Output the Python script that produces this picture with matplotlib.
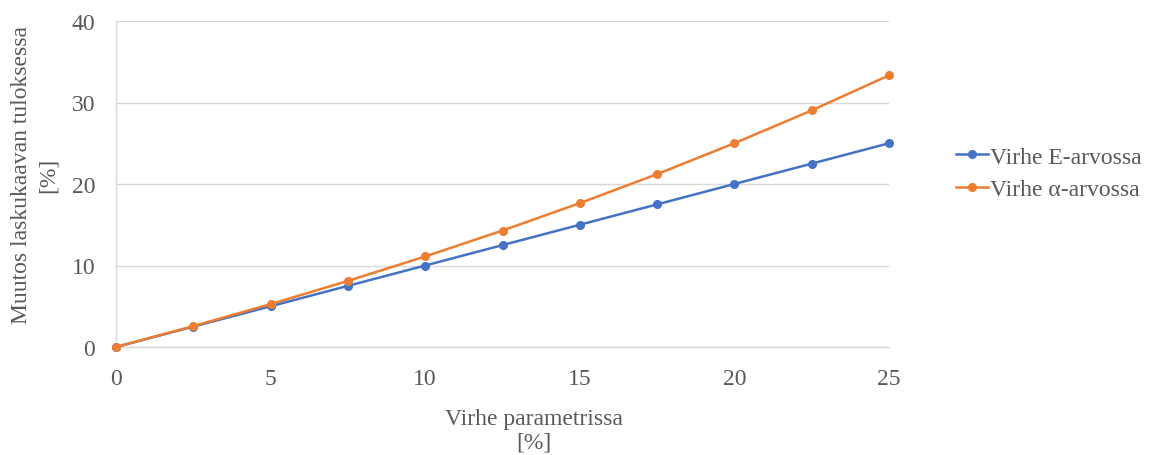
import matplotlib
matplotlib.use("Agg")
import matplotlib.pyplot as plt

# Error in the input parameter [%]
param_error = [0, 2.5, 5, 7.5, 10, 12.5, 15, 17.5, 20, 22.5, 25]
# Resulting change in the formula output [%]
e_change = [0, 2.5, 5.0, 7.5, 10.0, 12.5, 15.0, 17.5, 20.0, 22.5, 25.0]
alpha_change = [0, 2.56, 5.26, 8.11, 11.11, 14.29, 17.65, 21.21, 25.0, 29.03, 33.33]

series_labels = ["Virhe E-arvossa", "Virhe α-arvossa"]
x_ticks = [0, 5, 10, 15, 20, 25]
y_ticks = [0, 10, 20, 30, 40]

plt.rcParams["font.family"] = ["Liberation Serif", "DejaVu Serif"]
text_color = "#595959"
fs = 17

fig = plt.figure(figsize=(11.52, 4.56), dpi=100)
ax = fig.add_axes([116 / 1152, 1 - 348 / 456, (889 - 116) / 1152, (348 - 22) / 456])

ax.plot(param_error, e_change, color="#4472C4", lw=1.8, marker="o", ms=5.5,
        label=series_labels[0], zorder=3, clip_on=False)
ax.plot(param_error, alpha_change, color="#ED7D31", lw=1.8, marker="o", ms=5.5,
        label=series_labels[1], zorder=4, clip_on=False)

ax.set_xlim(0, 25)
ax.set_ylim(0, 40)
ax.set_xticks(x_ticks)
ax.set_yticks(y_ticks)
ax.tick_params(axis="both", length=0, labelsize=fs, labelcolor=text_color)
ax.tick_params(axis="x", pad=15)
ax.tick_params(axis="y", pad=15)

ax.grid(axis="y", color="#D9D9D9", lw=1)
ax.set_axisbelow(True)
for side in ["top", "right"]:
    ax.spines[side].set_visible(False)
for side in ["left", "bottom"]:
    ax.spines[side].set_color("#D9D9D9")
    ax.spines[side].set_linewidth(1)

ax.set_xlabel("Virhe parametrissa\n[%]", fontsize=fs, color=text_color,
              linespacing=1.15)
ax.xaxis.set_label_coords((534 - 116) / (889 - 116), -(431 - 348) / (348 - 22))
ax.xaxis.label.set_va("center")
ax.set_ylabel("Muutos laskukaavan tuloksessa\n[%]", fontsize=fs, color=text_color,
              linespacing=1.35)
ax.yaxis.set_label_coords(-(116 - 35) / (889 - 116), (348 - 175) / (348 - 22))
ax.yaxis.label.set_va("center")

leg = ax.legend(loc="center left", bbox_to_anchor=(956 / 1152, 1 - 174 / 456),
                bbox_transform=fig.transFigure, frameon=False, fontsize=fs,
                handlelength=1.35, handletextpad=0.08, labelspacing=0.45,
                borderpad=0, borderaxespad=0)
for t in leg.get_texts():
    t.set_color(text_color)

fig.savefig("out.png", dpi=100)
